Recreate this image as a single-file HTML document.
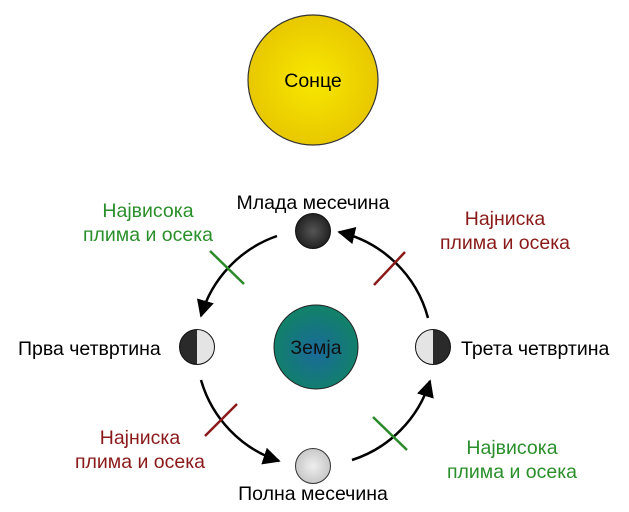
<!DOCTYPE html>
<html><head><meta charset="utf-8"><style>
html,body{margin:0;padding:0;background:#fff;}
svg{display:block;}
text{font-family:"Liberation Sans",Arial,sans-serif;font-size:19.5px;}
</style></head><body>
<svg width="629" height="512" viewBox="0 0 629 512" xmlns="http://www.w3.org/2000/svg">
<defs>
<radialGradient id="sun" cx="50%" cy="50%" r="50%"><stop offset="0" stop-color="#f8e800"/><stop offset="1" stop-color="#e8c800"/></radialGradient>
<radialGradient id="earth" cx="50%" cy="55%" r="50%"><stop offset="0" stop-color="#1a6a9a"/><stop offset="1" stop-color="#12806a"/></radialGradient>
<radialGradient id="dark" cx="50%" cy="50%" r="50%"><stop offset="0" stop-color="#555"/><stop offset="1" stop-color="#222"/></radialGradient>
<radialGradient id="light" cx="50%" cy="50%" r="50%"><stop offset="0" stop-color="#eee"/><stop offset="1" stop-color="#c8c8c8"/></radialGradient>
<marker id="ah" viewBox="0 0 10 10" refX="9" refY="5" markerWidth="7" markerHeight="7" orient="auto" markerUnits="strokeWidth"><path d="M0,0 L10,5 L0,10 z" fill="#000"/></marker>
</defs>
<circle cx="313" cy="80" r="65" fill="url(#sun)" stroke="#333" stroke-width="1.2"/>
<text x="313" y="87" text-anchor="middle">Сонце</text>

<circle cx="316" cy="347" r="42" fill="url(#earth)" stroke="#222" stroke-width="1"/>
<text x="316" y="354" text-anchor="middle" fill="#111">Земја</text>

<g fill="none" stroke="#000" stroke-width="2.5">
<path d="M277,236 A120,120 0 0 0 201,316" marker-end="url(#ah)"/>
<path d="M201,380 A120,120 0 0 0 279,461" marker-end="url(#ah)"/>
<path d="M352,460 A120,120 0 0 0 430,381" marker-end="url(#ah)"/>
<path d="M428,318 A120,120 0 0 0 339,232" marker-end="url(#ah)"/>
</g>
<g stroke-width="2.5">
<line x1="210" y1="251" x2="244" y2="284" stroke="#2a8a2a"/>
<line x1="374" y1="285" x2="405" y2="252" stroke="#8a1a1a"/>
<line x1="205" y1="436" x2="237" y2="404" stroke="#8a1a1a"/>
<line x1="373" y1="417" x2="407" y2="450" stroke="#2a8a2a"/>
</g>

<circle cx="313" cy="231" r="17.5" fill="url(#dark)" stroke="#111"/>
<circle cx="313" cy="466" r="17.5" fill="url(#light)" stroke="#333"/>
<g>
<path d="M197,329.5 A17.5,17.5 0 0 0 197,364.5 z" fill="#2a2a2a"/>
<path d="M197,329.5 A17.5,17.5 0 0 1 197,364.5 z" fill="#e4e4e4"/>
<circle cx="197" cy="347" r="17.5" fill="none" stroke="#111"/>
<path d="M433,329.5 A17.5,17.5 0 0 0 433,364.5 z" fill="#e4e4e4"/>
<path d="M433,329.5 A17.5,17.5 0 0 1 433,364.5 z" fill="#2a2a2a"/>
<circle cx="433" cy="347" r="17.5" fill="none" stroke="#111"/>
</g>

<text x="313" y="209" text-anchor="middle">Млада месечина</text>
<text x="313" y="500" text-anchor="middle">Полна месечина</text>
<text x="18" y="355">Прва четвртина</text>
<text x="461" y="355">Трета четвртина</text>
<g fill="#2a8f2a" text-anchor="middle">
<text x="148" y="217">Највисока</text><text x="148" y="241">плима и осека</text>
<text x="512" y="454">Највисока</text><text x="512" y="478">плима и осека</text>
</g>
<g fill="#8a1a1a" text-anchor="middle">
<text x="505" y="225">Најниска</text><text x="505" y="249">плима и осека</text>
<text x="140" y="444">Најниска</text><text x="140" y="468">плима и осека</text>
</g>
</svg>
</body></html>
